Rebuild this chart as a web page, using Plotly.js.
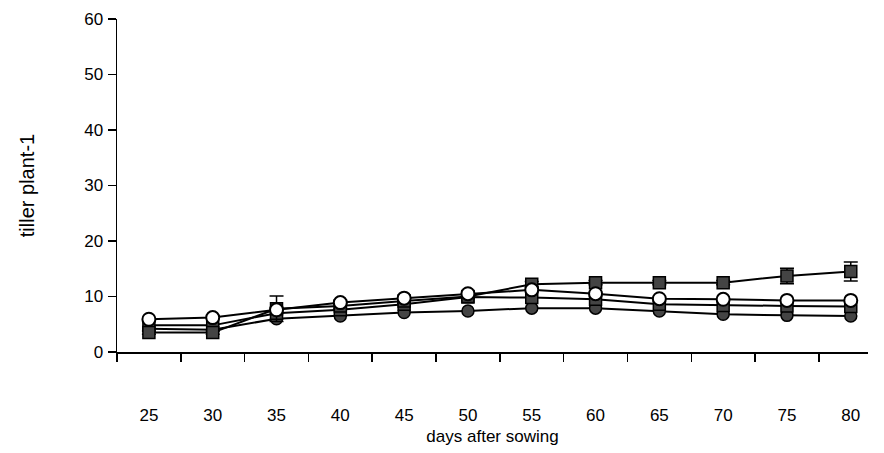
<!DOCTYPE html>
<html>
<head>
<meta charset="utf-8">
<script src="https://cdn.plot.ly/plotly-3.0.1.min.js"></script>
<style>html,body{margin:0;padding:0;background:#fff;}#chart{width:884px;height:453px;}</style>
</head>
<body>
<div id="chart"></div>
<script>
var days = ['25','30','35','40','45','50','55','60','65','70','75','80'];
var seriesA = [3.5, 3.5, 7.8, 8.3, 9.2, 10.0, 12.2, 12.5, 12.5, 12.5, 13.7, 14.5];
var seriesAErr = [0.3, 0.3, 2.3, 0.4, 0.4, 0.4, 0.5, 0.4, 0.4, 0.4, 1.4, 1.7];
var seriesB = [5.9, 6.2, 7.6, 8.9, 9.7, 10.5, 11.2, 10.5, 9.6, 9.5, 9.3, 9.3];
var seriesC = [4.8, 4.8, 7.0, 7.6, 8.6, 9.9, 9.8, 9.5, 8.6, 8.4, 8.3, 8.2];
var seriesD = [4.2, 4.0, 6.0, 6.5, 7.1, 7.4, 7.9, 7.9, 7.4, 6.8, 6.6, 6.5];
var yTicks = [0, 10, 20, 30, 40, 50, 60];

var lineStyle = {color: '#000', width: 2};
function patterned(sym) {
  return {symbol: sym, size: 12, color: '#444', line: {color: '#000', width: 1.5}};
}
var traces = [
  {x: days, y: seriesD, type: 'scatter', mode: 'lines+markers', name: 'D',
   line: lineStyle, marker: patterned('circle')},
  {x: days, y: seriesC, type: 'scatter', mode: 'lines+markers', name: 'C',
   line: lineStyle, marker: patterned('square')},
  {x: days, y: seriesA, type: 'scatter', mode: 'lines+markers', name: 'A',
   line: lineStyle, marker: patterned('square'),
   error_y: {type: 'data', array: seriesAErr, visible: true, color: '#000', thickness: 1.5, width: 7}},
  {x: days, y: seriesB, type: 'scatter', mode: 'lines+markers', name: 'B',
   line: lineStyle, marker: {symbol: 'circle', size: 13, color: '#fff', line: {color: '#000', width: 2}}}
];

var font = {family: 'Liberation Sans, Arial, sans-serif', size: 17, color: '#000'};
var titleFont = {family: 'Liberation Sans, Arial, sans-serif', size: 17, color: '#000'};
var yTitleFont = {family: 'Liberation Sans, Arial, sans-serif', size: 20, color: '#000'};
var layout = {
  width: 884, height: 453,
  margin: {l: 117, r: 16, t: 19, b: 101},
  paper_bgcolor: '#fff', plot_bgcolor: '#fff',
  showlegend: false,
  font: font,
  xaxis: {
    type: 'category',
    range: [-0.5, 11.27],
    showline: true, linecolor: '#000', linewidth: 1.5,
    ticks: 'outside', ticklen: 8, tickcolor: '#000', tickwidth: 1.5,
    tickson: 'boundaries',
    ticklabelstandoff: 47,
    showgrid: false, zeroline: false,
    tickfont: font,
    title: {text: 'days after sowing', font: titleFont, standoff: 6},
    automargin: false
  },
  yaxis: {
    range: [0, 60],
    tickvals: yTicks,
    showline: true, linecolor: '#000', linewidth: 1.5,
    ticks: 'outside', ticklen: 8, tickcolor: '#000', tickwidth: 1.5,
    showgrid: false, zeroline: false,
    tickfont: font,
    ticklabelstandoff: 1,
    title: {text: 'tiller plant-1', font: yTitleFont, standoff: 44},
    automargin: false
  }
};
Plotly.newPlot('chart', traces, layout, {displayModeBar: false, staticPlot: true});
</script>
</body>
</html>
